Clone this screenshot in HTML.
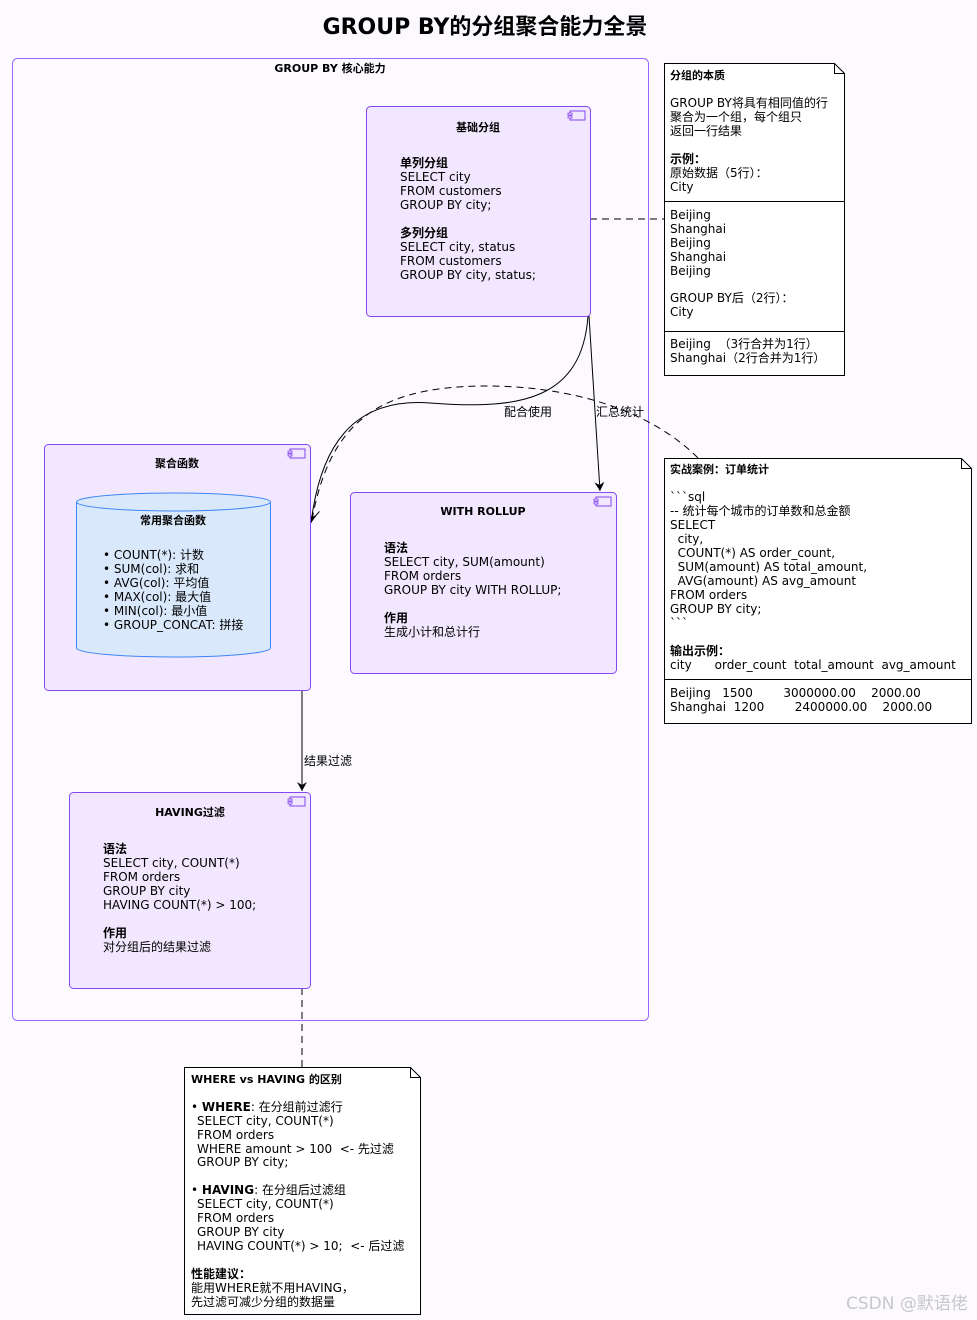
<!DOCTYPE html>
<html><head><meta charset="utf-8"><style>
html,body{margin:0;padding:0;background:#fcf9ff;}
svg{display:block;}
text{font-family:"DejaVu Sans","Liberation Sans","Noto Sans CJK SC",sans-serif;font-size:12px;fill:#000;white-space:pre;}
.b{font-weight:bold;}
.m{text-anchor:middle;}
</style></head><body>
<svg width="977" height="1320" viewBox="0 0 977 1320" xmlns="http://www.w3.org/2000/svg">
<defs>
<marker id="ah" markerWidth="10" markerHeight="10" refX="9" refY="5" orient="auto" markerUnits="userSpaceOnUse"><path d="M0,0 L9,5 L0,10 L3,5 Z" fill="#000"/></marker>
<marker id="ao" markerWidth="12" markerHeight="12" refX="10" refY="6" orient="auto" markerUnits="userSpaceOnUse"><path d="M0,0 L10,6 L0,12" fill="none" stroke="#000"/></marker>
</defs>
<rect width="977" height="1320" fill="#fcf9ff"/>
<text x="485" y="34" class="b m" style="font-size:22px">GROUP BY的分组聚合能力全景</text>

<rect x="12.5" y="58.5" width="636" height="962" rx="5" fill="none" stroke="#9a66ff"/>
<text x="330" y="72" class="b m" style="font-size:11px">GROUP BY 核心能力</text>

<line x1="590" y1="219" x2="664" y2="219" stroke="#000" stroke-dasharray="7,5"/>
<path d="M588,316 C582,400 520,410 430,403 C350,397 320,450 311,523" fill="none" stroke="#000" marker-end="url(#ah)"/>
<text x="504" y="416">配合使用</text>
<line x1="589" y1="316" x2="600" y2="491" stroke="#000" marker-end="url(#ah)"/>
<text x="596" y="416">汇总统计</text>
<path d="M698,458 C650,410 570,385 480,386 C380,388 330,420 312,520" fill="none" stroke="#000" stroke-dasharray="7,5" marker-end="url(#ao)"/>
<line x1="302" y1="690" x2="302" y2="791" stroke="#000" marker-end="url(#ah)"/>
<text x="304" y="765">结果过滤</text>
<line x1="302" y1="988" x2="302" y2="1067" stroke="#000" stroke-dasharray="7,5"/>

<rect x="366.5" y="106.5" width="224" height="210" rx="4" fill="#f1e7fe" stroke="#8447f0"/>
<rect x="570" y="111" width="15" height="9" fill="none" stroke="#8447f0"/><rect x="568" y="113" width="4" height="2" fill="#f1e7fe" stroke="#8447f0" stroke-width=".8"/><rect x="568" y="116" width="4" height="2" fill="#f1e7fe" stroke="#8447f0" stroke-width=".8"/>
<text x="478" y="131" class="b m" style="font-size:11px">基础分组</text>
<text x="400" y="167" class="b">单列分组</text>
<text x="400" y="181">SELECT city</text>
<text x="400" y="195">FROM customers</text>
<text x="400" y="209">GROUP BY city;</text>
<text x="400" y="237" class="b">多列分组</text>
<text x="400" y="251">SELECT city, status</text>
<text x="400" y="265">FROM customers</text>
<text x="400" y="279">GROUP BY city, status;</text>

<path d="M664.5,63.5 L834.5,63.5 L844.5,73.5 L844.5,375.5 L664.5,375.5 Z" fill="#fff" stroke="#000"/>
<path d="M834.5,63.5 L834.5,73.5 L844.5,73.5" fill="none" stroke="#000"/>
<text x="670" y="79" class="b" style="font-size:11px">分组的本质</text>
<text x="670" y="107">GROUP BY将具有相同值的行</text>
<text x="670" y="121">聚合为一个组，每个组只</text>
<text x="670" y="135">返回一行结果</text>
<text x="670" y="163" class="b">示例：</text>
<text x="670" y="177">原始数据（5行）：</text>
<text x="670" y="191">City</text>
<line x1="664" y1="201.5" x2="844" y2="201.5" stroke="#000"/>
<text x="670" y="219">Beijing</text>
<text x="670" y="233">Shanghai</text>
<text x="670" y="247">Beijing</text>
<text x="670" y="261">Shanghai</text>
<text x="670" y="275">Beijing</text>
<text x="670" y="302">GROUP BY后（2行）：</text>
<text x="670" y="316">City</text>
<line x1="664" y1="331.5" x2="844" y2="331.5" stroke="#000"/>
<text x="670" y="348">Beijing  （3行合并为1行）</text>
<text x="670" y="362">Shanghai（2行合并为1行）</text>

<rect x="44.5" y="444.5" width="266" height="246" rx="4" fill="#f1e7fe" stroke="#8447f0"/>
<rect x="290" y="449" width="15" height="9" fill="none" stroke="#8447f0"/><rect x="288" y="451" width="4" height="2" fill="#f1e7fe" stroke="#8447f0" stroke-width=".8"/><rect x="288" y="454" width="4" height="2" fill="#f1e7fe" stroke="#8447f0" stroke-width=".8"/>
<text x="177" y="467" class="b m" style="font-size:11px">聚合函数</text>
<path d="M76.5,502 L76.5,648 A97,9 0 0 0 270.5,648 L270.5,502" fill="#dae8fc" stroke="#3d86f5"/>
<ellipse cx="173.5" cy="502" rx="97" ry="9" fill="#dae8fc" stroke="#3d86f5"/>
<text x="173" y="524" class="b m" style="font-size:11px">常用聚合函数</text>
<text x="103" y="559">• COUNT(*): 计数</text>
<text x="103" y="573">• SUM(col): 求和</text>
<text x="103" y="587">• AVG(col): 平均值</text>
<text x="103" y="601">• MAX(col): 最大值</text>
<text x="103" y="615">• MIN(col): 最小值</text>
<text x="103" y="629">• GROUP_CONCAT: 拼接</text>

<rect x="350.5" y="492.5" width="266" height="181" rx="4" fill="#f1e7fe" stroke="#8447f0"/>
<rect x="596" y="497" width="15" height="9" fill="none" stroke="#8447f0"/><rect x="594" y="499" width="4" height="2" fill="#f1e7fe" stroke="#8447f0" stroke-width=".8"/><rect x="594" y="502" width="4" height="2" fill="#f1e7fe" stroke="#8447f0" stroke-width=".8"/>
<text x="483" y="515" class="b m" style="font-size:11px">WITH ROLLUP</text>
<text x="384" y="552" class="b">语法</text>
<text x="384" y="566">SELECT city, SUM(amount)</text>
<text x="384" y="580">FROM orders</text>
<text x="384" y="594">GROUP BY city WITH ROLLUP;</text>
<text x="384" y="622" class="b">作用</text>
<text x="384" y="636">生成小计和总计行</text>

<rect x="69.5" y="792.5" width="241" height="196" rx="4" fill="#f1e7fe" stroke="#8447f0"/>
<rect x="290" y="797" width="15" height="9" fill="none" stroke="#8447f0"/><rect x="288" y="799" width="4" height="2" fill="#f1e7fe" stroke="#8447f0" stroke-width=".8"/><rect x="288" y="802" width="4" height="2" fill="#f1e7fe" stroke="#8447f0" stroke-width=".8"/>
<text x="190" y="816" class="b m" style="font-size:11px">HAVING过滤</text>
<text x="103" y="853" class="b">语法</text>
<text x="103" y="867">SELECT city, COUNT(*)</text>
<text x="103" y="881">FROM orders</text>
<text x="103" y="895">GROUP BY city</text>
<text x="103" y="909">HAVING COUNT(*) &gt; 100;</text>
<text x="103" y="937" class="b">作用</text>
<text x="103" y="951">对分组后的结果过滤</text>

<path d="M664.5,458.5 L961.5,458.5 L971.5,468.5 L971.5,723.5 L664.5,723.5 Z" fill="#fff" stroke="#000"/>
<path d="M961.5,458.5 L961.5,468.5 L971.5,468.5" fill="none" stroke="#000"/>
<text x="670" y="473" class="b" style="font-size:11px">实战案例：订单统计</text>
<text x="670" y="501">&#96;&#96;&#96;sql</text>
<text x="670" y="515">-- 统计每个城市的订单数和总金额</text>
<text x="670" y="529">SELECT</text>
<text x="670" y="543">  city,</text>
<text x="670" y="557">  COUNT(*) AS order_count,</text>
<text x="670" y="571">  SUM(amount) AS total_amount,</text>
<text x="670" y="585">  AVG(amount) AS avg_amount</text>
<text x="670" y="599">FROM orders</text>
<text x="670" y="613">GROUP BY city;</text>
<text x="670" y="627">&#96;&#96;&#96;</text>
<text x="670" y="655" class="b">输出示例：</text>
<text x="670" y="669">city      order_count  total_amount  avg_amount</text>
<line x1="664" y1="679.5" x2="971" y2="679.5" stroke="#000"/>
<text x="670" y="697">Beijing   1500        3000000.00    2000.00</text>
<text x="670" y="711">Shanghai  1200        2400000.00    2000.00</text>

<path d="M184.5,1067.5 L410.5,1067.5 L420.5,1077.5 L420.5,1314.5 L184.5,1314.5 Z" fill="#fff" stroke="#000"/>
<path d="M410.5,1067.5 L410.5,1077.5 L420.5,1077.5" fill="none" stroke="#000"/>
<text x="191" y="1083" class="b" style="font-size:11px">WHERE vs HAVING 的区别</text>
<text x="191" y="1111">• <tspan class="b">WHERE</tspan>: 在分组前过滤行</text>
<text x="197" y="1125">SELECT city, COUNT(*)</text>
<text x="197" y="1139">FROM orders</text>
<text x="197" y="1153">WHERE amount &gt; 100  &lt;- 先过滤</text>
<text x="197" y="1166">GROUP BY city;</text>
<text x="191" y="1194">• <tspan class="b">HAVING</tspan>: 在分组后过滤组</text>
<text x="197" y="1208">SELECT city, COUNT(*)</text>
<text x="197" y="1222">FROM orders</text>
<text x="197" y="1236">GROUP BY city</text>
<text x="197" y="1250">HAVING COUNT(*) &gt; 10;  &lt;- 后过滤</text>
<text x="191" y="1278" class="b">性能建议：</text>
<text x="191" y="1292">能用WHERE就不用HAVING，</text>
<text x="191" y="1306">先过滤可减少分组的数据量</text>

<text x="846" y="1309" style="font-size:17px;fill:#c8c8cc">CSDN @默语佬</text>
</svg>
</body></html>
